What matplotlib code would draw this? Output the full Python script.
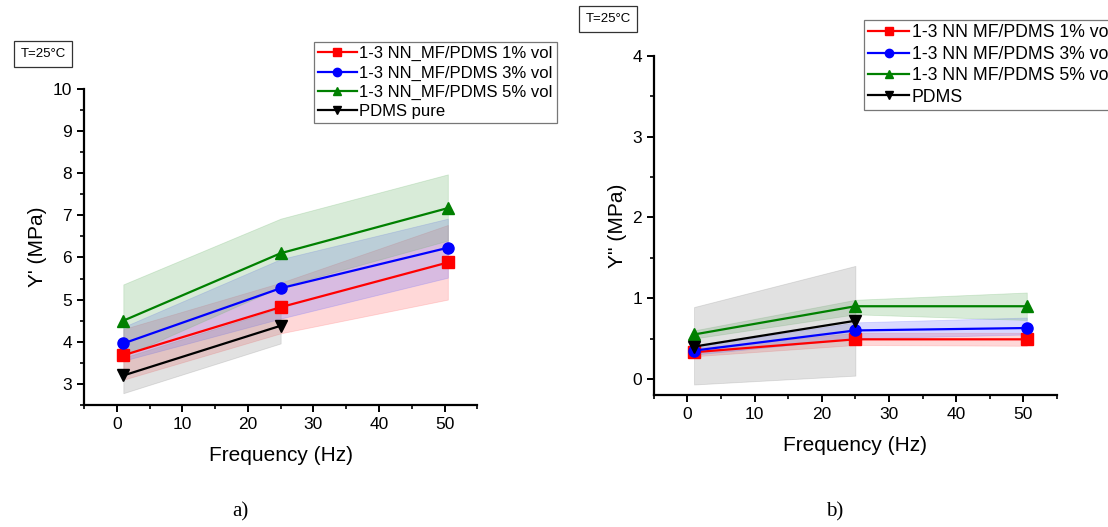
import matplotlib.pyplot as plt
from matplotlib.ticker import MultipleLocator

plt.rcParams["font.family"] = ["Liberation Sans", "DejaVu Sans"]

# panel a) storage modulus Y'
freq = [1, 25, 50.5]
freq_pdms = [1, 25]
a_red = [3.68, 4.82, 5.88]
a_red_lo = [3.10, 4.20, 5.00]
a_red_hi = [4.30, 5.40, 6.77]
a_blue = [3.96, 5.27, 6.23]
a_blue_lo = [3.55, 4.55, 5.52]
a_blue_hi = [4.35, 5.96, 6.92]
a_green = [4.50, 6.10, 7.17]
a_green_lo = [3.65, 5.30, 6.40]
a_green_hi = [5.36, 6.92, 7.97]
a_black = [3.20, 4.38]
a_black_lo = [2.78, 3.96]
a_black_hi = [3.62, 4.80]

# panel b) loss modulus Y''
b_red = [0.33, 0.49, 0.49]
b_red_lo = [0.28, 0.42, 0.41]
b_red_hi = [0.38, 0.57, 0.57]
b_blue = [0.35, 0.60, 0.63]
b_blue_lo = [0.30, 0.50, 0.55]
b_blue_hi = [0.40, 0.70, 0.76]
b_green = [0.55, 0.90, 0.90]
b_green_lo = [0.50, 0.80, 0.73]
b_green_hi = [0.60, 0.98, 1.07]
b_black = [0.40, 0.72]
b_black_lo = [-0.07, 0.04]
b_black_hi = [0.89, 1.40]

labels_a = ["1-3 NN_MF/PDMS 1% vol", "1-3 NN_MF/PDMS 3% vol", "1-3 NN_MF/PDMS 5% vol", "PDMS pure"]
labels_b = ["1-3 NN MF/PDMS 1% vol", "1-3 NN MF/PDMS 3% vol", "1-3 NN MF/PDMS 5% vol", "PDMS"]

COLOURS = ["#ff0000", "#0000ff", "#008000", "#000000"]
FILLS = ["#ff6666", "#6666ff", "#66b366", "#888888"]
MARKERS = ["s", "o", "^", "v"]


def draw_panel(ax, series, labels):
    for (x, y, lo, hi), colour, fill, marker, label in zip(series, COLOURS, FILLS, MARKERS, labels):
        ax.fill_between(x, lo, hi, color=fill, alpha=0.25, linewidth=0.6, edgecolor=fill)
        ax.plot(x, y, color=colour, marker=marker, markersize=8, linewidth=1.6, label=label)
    for side in ("top", "right"):
        ax.spines[side].set_visible(False)
    for side in ("left", "bottom"):
        ax.spines[side].set_linewidth(1.6)
    ax.set_xlim(-5, 55)
    ax.xaxis.set_major_locator(MultipleLocator(10))
    ax.xaxis.set_minor_locator(MultipleLocator(5))
    ax.tick_params(which="major", direction="out", length=5, width=1.4, labelsize=12.5)
    ax.tick_params(which="minor", direction="out", length=3, width=1.2)
    ax.set_xlabel("Frequency (Hz)", fontsize=15, labelpad=10)


fig = plt.figure(figsize=(11.08, 5.27), dpi=100)
ax_a = fig.add_axes([0.0758, 0.2315, 0.355, 0.600])
ax_b = fig.add_axes([0.590, 0.2505, 0.364, 0.643])

draw_panel(ax_a, [(freq, a_red, a_red_lo, a_red_hi), (freq, a_blue, a_blue_lo, a_blue_hi),
                  (freq, a_green, a_green_lo, a_green_hi), (freq_pdms, a_black, a_black_lo, a_black_hi)], labels_a)
ax_a.set_ylim(2.5, 10)
ax_a.yaxis.set_major_locator(MultipleLocator(1))
ax_a.yaxis.set_minor_locator(MultipleLocator(0.5))
ax_a.set_ylabel("Y' (MPa)", fontsize=15)

draw_panel(ax_b, [(freq, b_red, b_red_lo, b_red_hi), (freq, b_blue, b_blue_lo, b_blue_hi),
                  (freq, b_green, b_green_lo, b_green_hi), (freq_pdms, b_black, b_black_lo, b_black_hi)], labels_b)
ax_b.set_ylim(-0.2, 4)
ax_b.yaxis.set_major_locator(MultipleLocator(1))
ax_b.yaxis.set_minor_locator(MultipleLocator(0.5))
ax_b.set_ylabel("Y'' (MPa)", fontsize=15)

legend_style = dict(frameon=True, fancybox=False, edgecolor="#555555", borderpad=0.25,
                    labelspacing=0.25, handlelength=2.3, handletextpad=0.15, borderaxespad=0, markerscale=0.75)
leg_a = ax_a.legend(loc="upper left", bbox_to_anchor=(314 / 1108, 1 - 42 / 527),
                    bbox_transform=fig.transFigure, fontsize=12, **legend_style)
leg_b = ax_b.legend(loc="upper left", bbox_to_anchor=(864 / 1108, 1 - 20 / 527),
                    bbox_transform=fig.transFigure, fontsize=12.7, **legend_style)
for leg in (leg_a, leg_b):
    leg.get_frame().set_linewidth(0.9)

box = dict(boxstyle="square,pad=0.5", facecolor="white", edgecolor="#333333", linewidth=0.9)
fig.text(43 / 1108, 1 - 54 / 527, "T=25°C", fontsize=9.5, ha="center", va="center", bbox=box)
fig.text(608 / 1108, 1 - 19 / 527, "T=25°C", fontsize=9.5, ha="center", va="center", bbox=box)

fig.text(240 / 1108, 1 - 512 / 527, "a)", fontsize=15, ha="center", va="center",
         family=["Liberation Serif", "DejaVu Serif"])
fig.text(835 / 1108, 1 - 512 / 527, "b)", fontsize=15, ha="center", va="center",
         family=["Liberation Serif", "DejaVu Serif"])

fig.savefig("out.png", dpi=100)
